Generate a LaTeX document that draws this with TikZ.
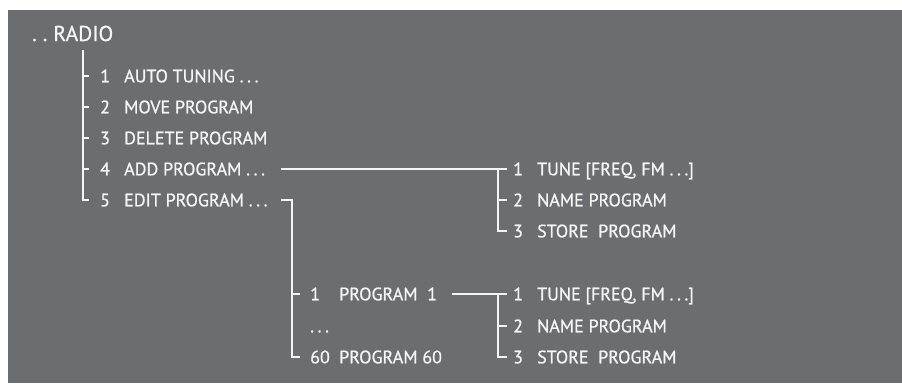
\documentclass[tikz,border=0pt]{standalone}
\usepackage{fontspec}
\setmainfont{PT Sans}[BoldFont=PT Sans, BoldFeatures={FakeBold=0.8}]
\newcommand\ddd{.\kern3.6pt.\kern3.6pt.}
\definecolor{bggray}{HTML}{6C6D71}
\definecolor{fg}{HTML}{F5F5F5}
\tikzset{
  lbl/.style={anchor=base west, inner sep=0pt, text=fg, font=\fontsize{18}{20}\selectfont\bfseries},
  ttl/.style={anchor=base west, inner sep=0pt, text=fg, font=\fontsize{21.5}{24}\selectfont\bfseries},
  wire/.style={draw=fg, line width=1.3pt}
}
\begin{document}
\begin{tikzpicture}[x=1pt,y=-1pt]
\fill[white] (0,0) rectangle (902,383);
\fill[bggray] (8,10) rectangle (902,383);
\useasboundingbox (0,0) rectangle (902,383);
% title
\node[ttl] (radio) at (32,41) {.\kern6pt.\kern6pt RADIO};
% main list
\node[lbl] (n1) at (100,82.3) {1};
\node[lbl] (l1) at (124,82.3) {AUTO TUNING \ddd};
\node[lbl] (n2) at (100,113.3) {2};
\node[lbl] (l2) at (124,113.3) {MOVE PROGRAM};
\node[lbl] (n3) at (100,144.3) {3};
\node[lbl] (l3) at (124,144.3) {DELETE PROGRAM};
\node[lbl] (n4) at (100,175.3) {4};
\node[lbl] (l4) at (124,175.3) {ADD PROGRAM \ddd};
\node[lbl] (n5) at (100,206.3) {5};
\node[lbl] (l5) at (124,206.3) {EDIT PROGRAM \ddd};
\coordinate (mtop) at (83,50);
\coordinate (m1) at (83,76);
\coordinate (m2) at (83,107);
\coordinate (m3) at (83,138);
\coordinate (m4) at (83,169);
\coordinate (m5) at (83,200);
\draw[wire] (mtop) -- (m5) -- ++(6,0);
\foreach \r in {m1,m2,m3,m4} \draw[wire] (\r) -- ++(6,0);
% add program subtree
\node[lbl] (a1) at (513,175.3) {1};
\node[lbl] (at1) at (537,175.3) {TUNE [FREQ, FM \ddd]};
\node[lbl] (a2) at (513,206.3) {2};
\node[lbl] (at2) at (537,206.3) {NAME PROGRAM};
\node[lbl] (a3) at (513,237.3) {3};
\node[lbl] (at3) at (537,237.3) {STORE\ \ PROGRAM};
\coordinate (l4e) at (281,169);
\coordinate (s1) at (498,169);
\coordinate (s2) at (498,200);
\coordinate (s3) at (498,231);
\draw[wire] (l4e) -- (s1) -- ++(9,0);
\draw[wire] (s1) -- (s3) -- ++(9,0);
\draw[wire] (s2) -- ++(9,0);
% edit program subtree
\node[lbl] (p1) at (310,300.3) {1};
\node[lbl] (pt1) at (339,300.3) {PROGRAM\ \ 1};
\node[lbl] (p2) at (310,332.3) {\ddd};
\node[lbl] (p3) at (310,363.3) {60};
\node[lbl] (pt3) at (339,363.3) {PROGRAM 60};
\coordinate (l5e) at (281,200);
\coordinate (e0) at (292,200);
\coordinate (e1) at (292,294);
\coordinate (e3) at (292,357);
\draw[wire] (l5e) -- (e0) -- (e3) -- ++(8,0);
\draw[wire] (e1) -- ++(8,0);
% program 1 subtree
\node[lbl] (b1) at (513,300.3) {1};
\node[lbl] (bt1) at (537,300.3) {TUNE [FREQ, FM \ddd]};
\node[lbl] (b2) at (513,332.3) {2};
\node[lbl] (bt2) at (537,332.3) {NAME PROGRAM};
\node[lbl] (b3) at (513,363.3) {3};
\node[lbl] (bt3) at (537,363.3) {STORE\ \ PROGRAM};
\coordinate (pt1e) at (452,294);
\coordinate (u1) at (498,294);
\coordinate (u2) at (498,326);
\coordinate (u3) at (498,357);
\draw[wire] (pt1e) -- (u1) -- ++(9,0);
\draw[wire] (u1) -- (u3) -- ++(9,0);
\draw[wire] (u2) -- ++(9,0);
\end{tikzpicture}
\end{document}
